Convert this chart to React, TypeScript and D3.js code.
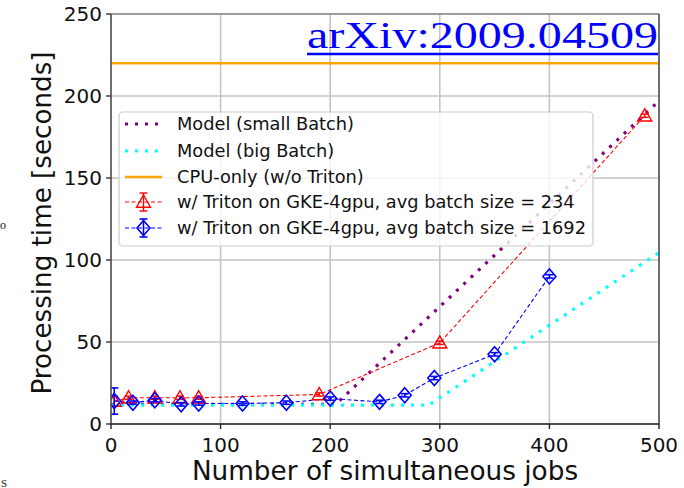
import React from "react";
import * as d3 from "d3";

const xTicks = [0, 100, 200, 300, 400, 500];
const yTicks = [0, 50, 100, 150, 200, 250];
const cpuOnlyY = 220;
const modelSmallX = [0, 205, 500];
const modelSmallY = [12, 12, 197];
const modelBigX = [0, 290, 500];
const modelBigY = [11.5, 11.5, 104.5];
const redX = [3, 16, 40, 63, 80, 190, 300, 487];
const redY = [14, 16, 16, 16, 16, 18, 49.5, 188];
const redErr = [3, 1, 1, 1, 1, 1, 1, 1];
const blueX = [3, 20, 40, 64, 80, 120, 160, 200, 245, 268, 295, 350, 400];
const blueY = [14, 13, 14.5, 12, 12.5, 12.5, 13, 15.5, 13.5, 17.5, 28, 42.5, 90];
const blueErr = [8, 1, 1, 1, 1, 1, 1, 1, 1, 1, 1, 1, 1];
const legendLabels = [
  "Model (small Batch)",
  "Model (big Batch)",
  "CPU-only (w/o Triton)",
  "w/ Triton on GKE-4gpu, avg batch size = 234",
  "w/ Triton on GKE-4gpu, avg batch size = 1692",
];

const W = 684, H = 488;
const L = 111, R = 659, T = 14, B = 424;
const FONT = "DejaVu Sans, sans-serif";

function tri(cx: number, cy: number, s = 7) {
  return `M${cx},${cy - s}L${cx + s},${cy + s * 0.75}L${cx - s},${cy + s * 0.75}Z`;
}
function dia(cx: number, cy: number, w = 6.5, h = 7.5) {
  return `M${cx},${cy - h}L${cx + w},${cy}L${cx},${cy + h}L${cx - w},${cy}Z`;
}

export default function App() {
  const x = d3.scaleLinear().domain([0, 500]).range([L, R]);
  const y = d3.scaleLinear().domain([0, 250]).range([B, T]);
  const line = d3.line<[number, number]>().x((d) => x(d[0])).y((d) => y(d[1]));
  const small = modelSmallX.map((v, i) => [v, modelSmallY[i]] as [number, number]);
  const big = modelBigX.map((v, i) => [v, modelBigY[i]] as [number, number]);
  const red = redX.map((v, i) => [v, redY[i]] as [number, number]);
  const blue = blueX.map((v, i) => [v, blueY[i]] as [number, number]);
  const RED = "#ff0000", BLUE = "#0000ff";
  const legY = [124, 151, 177, 202, 228];

  return (
    <svg width={W} height={H} style={{ position: "absolute", left: 0, top: 0, background: "#fff" }} fontFamily={FONT}>
      <rect x={0} y={0} width={W} height={H} fill="#fff" />
      <defs>
        <clipPath id="plot"><rect x={L} y={T} width={R - L} height={B - T} /></clipPath>
      </defs>
      {/* grid */}
      {xTicks.map((t) => (
        <line key={"gx" + t} x1={x(t)} x2={x(t)} y1={T} y2={B} stroke="#c4c4c4" strokeWidth={1.6} />
      ))}
      {yTicks.map((t) => (
        <line key={"gy" + t} x1={L} x2={R} y1={y(t)} y2={y(t)} stroke="#c4c4c4" strokeWidth={1.6} />
      ))}
      <g clipPath="url(#plot)">
        <line x1={x(0)} x2={x(500)} y1={y(cpuOnlyY)} y2={y(cpuOnlyY)} stroke="#ffa500" strokeWidth={2.6} />
        <path d={line(small) || ""} fill="none" stroke="#800080" strokeWidth={3.2} strokeDasharray="3 7" />
        <path d={line(big) || ""} fill="none" stroke="#00ffff" strokeWidth={3.2} strokeDasharray="3 7" />
        <path d={line(red) || ""} fill="none" stroke={RED} strokeWidth={1.1} strokeDasharray="4 2.5" />
        <path d={line(blue) || ""} fill="none" stroke={BLUE} strokeWidth={1.1} strokeDasharray="4 2.5" />
        {red.map((d, i) => (
          <g key={"r" + i} stroke={RED} fill="none" strokeWidth={1.4}>
            <line x1={x(d[0])} x2={x(d[0])} y1={y(d[1] - redErr[i])} y2={y(d[1] + redErr[i])} />
            <line x1={x(d[0]) - 4} x2={x(d[0]) + 4} y1={y(d[1] - redErr[i])} y2={y(d[1] - redErr[i])} />
            <line x1={x(d[0]) - 4} x2={x(d[0]) + 4} y1={y(d[1] + redErr[i])} y2={y(d[1] + redErr[i])} />
            <path d={tri(x(d[0]), y(d[1]))} />
          </g>
        ))}
        {blue.map((d, i) => (
          <g key={"b" + i} stroke={BLUE} fill="none" strokeWidth={1.6}>
            <line x1={x(d[0])} x2={x(d[0])} y1={y(d[1] - blueErr[i])} y2={y(d[1] + blueErr[i])} />
            <line x1={x(d[0]) - 4} x2={x(d[0]) + 4} y1={y(d[1] - blueErr[i])} y2={y(d[1] - blueErr[i])} />
            <line x1={x(d[0]) - 4} x2={x(d[0]) + 4} y1={y(d[1] + blueErr[i])} y2={y(d[1] + blueErr[i])} />
            <path d={dia(x(d[0]), y(d[1]))} />
          </g>
        ))}
      </g>
      {/* spines */}
      <line x1={L} x2={R} y1={T} y2={T} stroke="#8a8a8a" strokeWidth={1.6} />
      <line x1={R} x2={R} y1={T} y2={B} stroke="#555" strokeWidth={1.6} />
      <line x1={L} x2={L} y1={T} y2={B} stroke="#555" strokeWidth={1.6} />
      <line x1={L} x2={R} y1={B} y2={B} stroke="#222" strokeWidth={1.6} />
      {/* ticks */}
      {xTicks.map((t) => (
        <g key={"xt" + t}>
          <line x1={x(t)} x2={x(t)} y1={B} y2={B + 5} stroke="#222" strokeWidth={1.4} />
          <text x={x(t)} y={452} fontSize={20} textAnchor="middle" fill="#111">{t}</text>
        </g>
      ))}
      {yTicks.map((t) => (
        <g key={"yt" + t}>
          <line x1={L - 5} x2={L} y1={y(t)} y2={y(t)} stroke="#333" strokeWidth={1.4} />
          <text x={L - 9} y={y(t) + 7} fontSize={20} textAnchor="end" fill="#111">{t}</text>
        </g>
      ))}
      <text x={385} y={480} fontSize={26.3} textAnchor="middle" fill="#111">Number of simultaneous jobs</text>
      <text transform="translate(51,223) rotate(-90)" fontSize={26.2} textAnchor="middle" fill="#111">Processing time [seconds]</text>
      {/* legend */}
      <rect x={119} y={112} width={474} height={134} rx={4} fill="#fff" fillOpacity={0.8} stroke="#cccccc" strokeWidth={1.2} />
      <line x1={125} x2={162} y1={legY[0]} y2={legY[0]} stroke="#800080" strokeWidth={3.2} strokeDasharray="3 7" />
      <line x1={125} x2={162} y1={legY[1]} y2={legY[1]} stroke="#00ffff" strokeWidth={3.2} strokeDasharray="3 7" />
      <line x1={125} x2={162} y1={legY[2]} y2={legY[2]} stroke="#ffa500" strokeWidth={2.6} />
      <g stroke={RED} fill="none" strokeWidth={1.4}>
        <line x1={125} x2={162} y1={legY[3]} y2={legY[3]} strokeWidth={1.1} strokeDasharray="4 2.5" />
        <line x1={143.5} x2={143.5} y1={legY[3] - 9} y2={legY[3] + 9} />
        <line x1={139.5} x2={147.5} y1={legY[3] - 9} y2={legY[3] - 9} />
        <line x1={139.5} x2={147.5} y1={legY[3] + 9} y2={legY[3] + 9} />
        <path d={tri(143.5, legY[3])} />
      </g>
      <g stroke={BLUE} fill="none" strokeWidth={1.6}>
        <line x1={125} x2={162} y1={legY[4]} y2={legY[4]} strokeWidth={1.1} strokeDasharray="4 2.5" />
        <line x1={143.5} x2={143.5} y1={legY[4] - 9} y2={legY[4] + 9} />
        <line x1={139.5} x2={147.5} y1={legY[4] - 9} y2={legY[4] - 9} />
        <line x1={139.5} x2={147.5} y1={legY[4] + 9} y2={legY[4] + 9} />
        <path d={dia(143.5, legY[4])} />
      </g>
      {legendLabels.map((s, i) => (
        <text key={"lg" + i} x={177} y={legY[i] + 6} fontSize={17.8} fill="#111">{s}</text>
      ))}
      {/* arXiv link */}
      <text x={307} y={48} fontFamily="Liberation Serif, Times New Roman, serif" fontSize={37} fill="#0000ff" textLength={351} lengthAdjust="spacingAndGlyphs">arXiv:2009.04509</text>
      <line x1={307} x2={658} y1={54} y2={54} stroke="#0000ff" strokeWidth={2.6} />
      {/* page residue */}
      <text x={0} y={229} fontFamily="Liberation Serif, serif" fontSize={12} fill="#111">o</text>
      <text x={1} y={487} fontFamily="Liberation Serif, serif" fontSize={11} fill="#111">S</text>
    </svg>
  );
}
